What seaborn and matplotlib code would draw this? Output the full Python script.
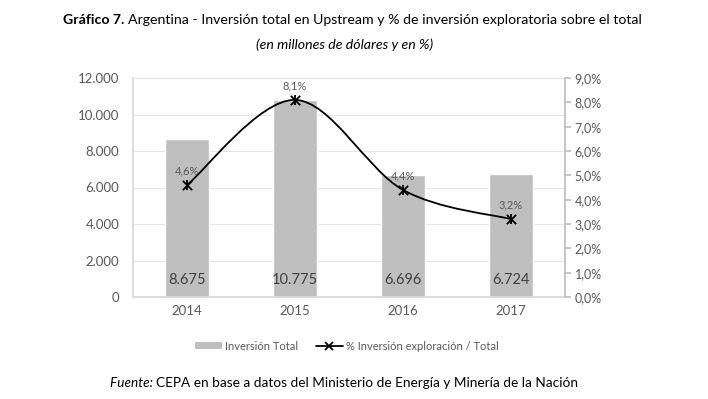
import matplotlib
matplotlib.use("Agg")
import matplotlib.pyplot as plt
import seaborn as sns
import pandas as pd
import numpy as np
from matplotlib.path import Path
from matplotlib.patches import PathPatch, Patch
from matplotlib.lines import Line2D
from matplotlib.ticker import FuncFormatter, MultipleLocator

years = ["2014", "2015", "2016", "2017"]
inversion_total = [8675, 10775, 6696, 6724]
pct_exploracion = [4.6, 8.1, 4.4, 3.2]

sns.set_theme(style="white")
plt.rcParams["font.family"] = ["Lato", "DejaVu Sans"]

GRAY_TXT = "#595959"
BAR = "#bfbfbf"

fig = plt.figure(figsize=(7.08, 3.99), dpi=100)
ax = fig.add_axes([133/708, 1-297/399, 432/708, 219/399])

df = pd.DataFrame({"year": years, "total": inversion_total})
sns.barplot(data=df, x="year", y="total", color=BAR, width=0.4, saturation=1, ax=ax, zorder=2)
ax.set_xlim(-0.5, 3.5)
ax.set_ylim(0, 12000)
ax.yaxis.set_major_locator(MultipleLocator(2000))
ax.yaxis.set_major_formatter(FuncFormatter(lambda v, p: f"{int(v):,}".replace(",", ".")))
ax.grid(axis="y", color="#e6e6e6", lw=0.8, zorder=0)
ax.set_axisbelow(True)
ax.set_xlabel("")
ax.set_ylabel("")
for s in ["top", "right"]:
    ax.spines[s].set_visible(False)
ax.spines["left"].set_color("#d9d9d9")
ax.spines["bottom"].set_color("#d9d9d9")
ax.tick_params(axis="y", colors=GRAY_TXT, labelsize=9.5, length=0, pad=10)
ax.tick_params(axis="x", colors=GRAY_TXT, labelsize=9.5, length=0, pad=6)
ax.set_xticks([0.5, 1.5, 2.5], minor=True)
ax.tick_params(axis="x", which="minor", length=4, color="#d9d9d9", direction="out")

for i, v in enumerate(inversion_total):
    ax.text(i, 550, f"{v:,}".replace(",", "."), ha="center", va="bottom",
            fontsize=10.5, color="#404040", zorder=5)

ax2 = ax.twinx()
ax2.set_ylim(0, 9)
ax2.set_xlim(-0.5, 3.5)
ax2.yaxis.set_major_locator(MultipleLocator(1))
ax2.yaxis.set_major_formatter(FuncFormatter(lambda v, p: f"{v:.1f}%".replace(".", ",")))
for s in ["top", "left", "bottom"]:
    ax2.spines[s].set_visible(False)
ax2.spines["right"].set_color("#bfbfbf")
ax2.tick_params(axis="y", colors="#bfbfbf", labelcolor=GRAY_TXT, labelsize=9, length=4,
                direction="out", pad=3)
ax2.grid(False)

# smoothed line (Bezier rendering through the data points)
xs = np.arange(len(pct_exploracion), dtype=float)
ys = np.array(pct_exploracion, dtype=float)
verts = [(xs[0], ys[0])]
codes = [Path.MOVETO]
n = len(xs)
for i in range(n - 1):
    p0 = np.array([xs[max(i-1, 0)], ys[max(i-1, 0)]])
    p1 = np.array([xs[i], ys[i]])
    p2 = np.array([xs[i+1], ys[i+1]])
    p3 = np.array([xs[min(i+2, n-1)], ys[min(i+2, n-1)]])
    c1 = p1 + (p2 - p0) / 6
    c2 = p2 - (p3 - p1) / 6
    verts += [tuple(c1), tuple(c2), tuple(p2)]
    codes += [Path.CURVE4] * 3
ax2.add_patch(PathPatch(Path(verts, codes), fill=False, edgecolor="black", lw=1.3, zorder=4))
sns.scatterplot(x=xs, y=ys, marker="x", s=45, color="black", linewidth=1.3, ax=ax2, zorder=5)
ax2.scatter(xs, ys, marker="|", s=45, color="black", linewidth=1.3, zorder=5)
for i, v in enumerate(pct_exploracion):
    ax2.text(xs[i], v + 0.35, f"{v:.1f}%".replace(".", ","), ha="center", va="bottom",
             fontsize=8, color=GRAY_TXT, zorder=6)

renderer = fig.canvas.get_renderer()

def run_texts(x0, y, parts, size):
    """Place consecutive text parts left to right starting at pixel x0."""
    x = x0
    for txt, kw in parts:
        t = fig.text(x / 708, 1 - y / 399, txt, fontsize=size, ha="left", va="center",
                     color="black", **kw)
        bb = t.get_window_extent(renderer=renderer)
        x = x + bb.width

run_texts(63, 20, [("Gráfico 7. ", {"fontweight": "bold"}),
                   ("Argentina - Inversión total en Upstream y % de inversión exploratoria sobre el total", {})],
          10.2)
fig.text(345/708, 1-45/399, "(en millones de dólares y en %)", fontsize=10.2, style="italic",
         ha="center", va="center", color="black")

handles = [Patch(facecolor=BAR, edgecolor="none"),
           Line2D([0], [0], color="black", lw=1.3, marker="x", markersize=6, markeredgewidth=1.3)]
leg = fig.legend(handles, ["Inversión Total", "% Inversión exploración / Total"],
                 loc="center", bbox_to_anchor=(347/708, 1-346/399), ncol=2, frameon=False,
                 fontsize=8, handlelength=2.4, handleheight=0.6, columnspacing=1.6, handletextpad=0.3)
for t in leg.get_texts():
    t.set_color(GRAY_TXT)

run_texts(110, 383, [("Fuente: ", {"style": "italic"}),
                     ("CEPA en base a datos del Ministerio de Energía y Minería de la Nación", {})],
          9.8)

fig.savefig("out.png", dpi=100, facecolor="white")
